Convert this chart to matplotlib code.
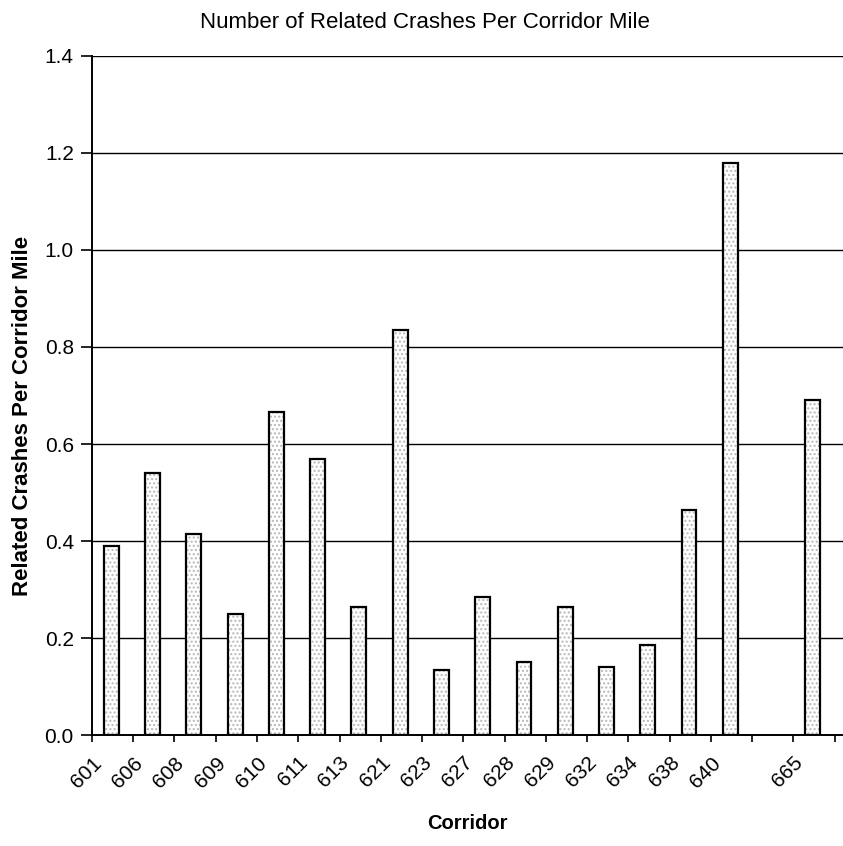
import numpy as np
import matplotlib
matplotlib.use("Agg")
import matplotlib.pyplot as plt

plt.rcParams['font.family'] = ['Liberation Sans', 'DejaVu Sans']

corridors = ['601', '606', '608', '609', '610', '611', '613', '621', '623',
             '627', '628', '629', '632', '634', '638', '640', '', '665']
crashes = [0.39, 0.54, 0.415, 0.25, 0.665, 0.57, 0.265, 0.835, 0.135,
           0.285, 0.15, 0.265, 0.14, 0.185, 0.465, 1.18, np.nan, 0.69]
yticks = [0.0, 0.2, 0.4, 0.6, 0.8, 1.0, 1.2, 1.4]

fig = plt.figure(figsize=(8.43, 8.46), dpi=100)
ax = fig.add_axes([0.109, 0.131, 0.891, 0.803])

pos = np.arange(len(corridors)) + 0.47
# stippled fill first, then the black outline on top
ax.bar(pos, crashes, width=0.36, color='white', edgecolor='#b8b8b8',
       hatch='....', linewidth=0, zorder=3)
ax.bar(pos, crashes, width=0.36, color='none', edgecolor='black',
       linewidth=1.6, zorder=4)

ax.set_xlim(0, 18.2)
ax.set_ylim(0, 1.4)
ax.set_yticks(yticks)
ax.set_yticklabels(['%.1f' % v for v in yticks], fontsize=15)
ax.yaxis.grid(True, color='black', linewidth=1.0)
ax.set_axisbelow(True)

ax.set_xticks(np.arange(len(corridors) + 1))
ax.set_xticklabels(corridors + [''], rotation=45, ha='right',
                   rotation_mode='anchor', fontsize=15)
ax.tick_params(axis='x', length=5, width=1.2, pad=8)
ax.tick_params(axis='y', length=8, width=1.2, pad=5)

for s in ['top', 'right']:
    ax.spines[s].set_visible(False)
ax.spines['left'].set_linewidth(1.4)
ax.spines['bottom'].set_linewidth(1.4)

ax.set_title("Number of Related Crashes Per Corridor Mile", fontsize=16,
             pad=20, x=0.443)
ax.set_ylabel("Related Crashes Per Corridor Mile", fontsize=16,
              fontweight='bold')
ax.yaxis.set_label_coords(-0.078, 0.47)
ax.set_xlabel("Corridor", fontsize=14.5, fontweight='bold', labelpad=16)

fig.savefig("out.png", dpi=100)
